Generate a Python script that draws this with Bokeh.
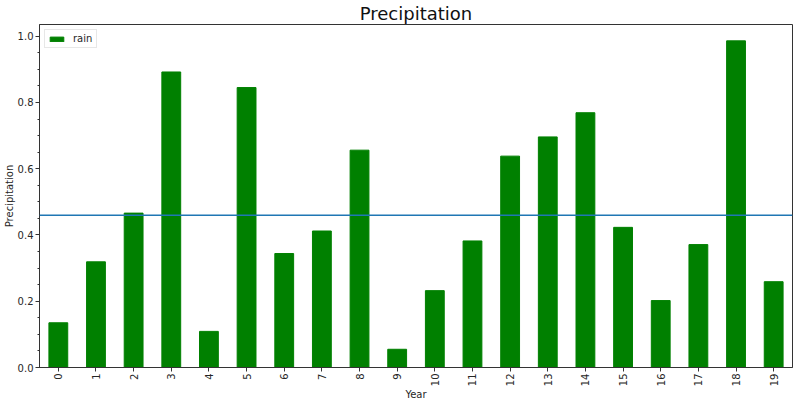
from bokeh.plotting import figure
from bokeh.models import Span, SingleIntervalTicker, NumeralTickFormatter, Range1d
from bokeh.embed import file_html
from bokeh.resources import INLINE
import math

# Data
years = [str(i) for i in range(20)]
rain = [0.135, 0.319, 0.466, 0.892, 0.109, 0.845, 0.344, 0.412, 0.656, 0.055,
        0.232, 0.382, 0.638, 0.696, 0.769, 0.423, 0.202, 0.371, 0.986, 0.259]
mean_rain = sum(rain) / len(rain)

FONT = "DejaVu Sans"
TXT = "#262626"

p = figure(x_range=years, y_range=Range1d(0, max(rain) * 1.05),
           width=800, height=403, output_backend="svg", toolbar_location=None,
           title="Precipitation", x_axis_label="Year", y_axis_label="Precipitation")

p.vbar(x=years, top=rain, width=0.5, fill_color="#008000", line_color="#008000",
       legend_label="rain")

p.add_layout(Span(location=mean_rain, dimension="width", line_color="#1f77b4", line_width=1.6))

# title
p.title.text_font = FONT
p.title.text_font_size = "18px"
p.title.text_font_style = "normal"
p.title.text_color = "#111111"
p.title.align = "center"
p.title.offset = 0
p.title.standoff = 1

# frame
p.outline_line_color = "#333333"
p.outline_line_width = 1
p.xgrid.visible = False
p.ygrid.visible = False
p.min_border_left = 0
p.min_border_right = 8
p.min_border_top = 0
p.min_border_bottom = 0

# y axis
p.yaxis.ticker = SingleIntervalTicker(interval=0.2, num_minor_ticks=4)
p.yaxis.formatter = NumeralTickFormatter(format="0.0")

for ax in (p.xaxis[0], p.yaxis[0]):
    ax.axis_line_color = "#333333"
    ax.major_tick_line_color = "#333333"
    ax.minor_tick_line_color = "#333333"
    ax.major_tick_in = 0
    ax.major_tick_out = 4
    ax.minor_tick_in = 0
    ax.minor_tick_out = 2
    ax.major_label_text_font = FONT
    ax.major_label_text_font_size = "10px"
    ax.major_label_text_color = TXT
    ax.axis_label_text_font = FONT
    ax.axis_label_text_font_size = "10px"
    ax.axis_label_text_font_style = "normal"
    ax.axis_label_text_color = TXT
    ax.major_label_standoff = 2
    ax.axis_label_standoff = 2

p.yaxis.axis_label_standoff = 0
p.xaxis.major_label_orientation = math.pi / 2
p.xaxis.minor_tick_line_color = None
p.xaxis.axis_label_standoff = 0

# legend
p.legend.location = "top_left"
p.legend.label_text_font = FONT
p.legend.label_text_font_size = "10px"
p.legend.label_text_color = TXT
p.legend.glyph_width = 17
p.legend.glyph_height = 6
p.legend.label_height = 10
p.legend.padding = 3
p.legend.spacing = 0
p.legend.margin = 5
p.legend.border_line_color = "#d0d0d0"
p.legend.label_standoff = 8

open("out.html", "w").write(file_html(p, INLINE))
